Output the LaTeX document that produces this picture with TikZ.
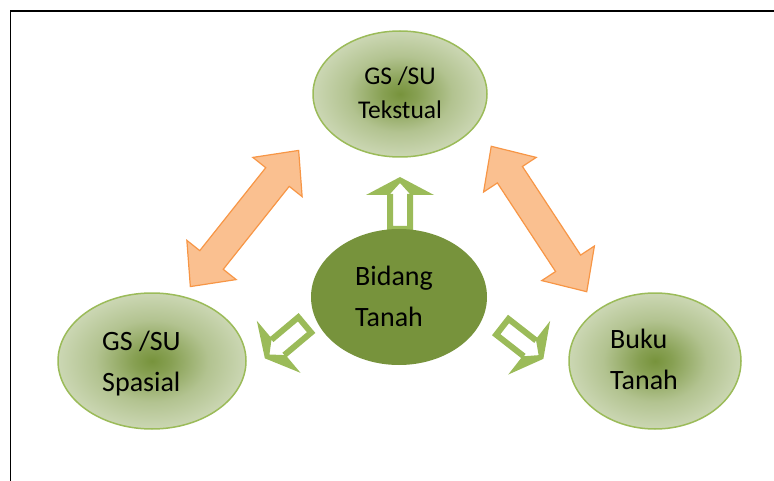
\documentclass[tikz,border=0pt]{standalone}
\usepackage{fontspec}
\setmainfont{Carlito}
\usetikzlibrary{shapes.geometric}

\definecolor{leafline}{HTML}{9BBB59}
\definecolor{leafdark}{HTML}{77933C}
\definecolor{leafpale}{HTML}{E3EAD5}
\definecolor{peachfill}{HTML}{FAC090}
\definecolor{peachline}{HTML}{F79646}

\pgfdeclareradialshading{leafglow}{\pgfpoint{0bp}{0bp}}{%
  color(0bp)=(leafdark);
  color(5bp)=(leafdark!85!leafpale);
  color(15bp)=(leafdark!45!leafpale);
  color(28bp)=(leafdark!15!leafpale);
  color(42bp)=(leafpale);
  color(50bp)=(leafpale)}

\tikzset{
  bubble/.style={ellipse, draw=leafline, line width=1.5pt, shading=leafglow, inner sep=0pt},
  core/.style={ellipse, fill=leafdark, inner sep=0pt},
  bigtext/.style={font=\fontsize{28}{41}\selectfont, align=left, inner sep=0pt},
  smalltext/.style={font=\fontsize{25.5}{34}\selectfont, align=center, inner sep=0pt},
  pics/hollow arrow/.style={code={
    \fill[leafline, even odd rule]
      (0,-13) -- (37,-13) -- (37,-34) -- (55,0) -- (37,34) -- (37,13) -- (0,13) -- cycle
      (6,-7) -- (38,-7) -- (38,-10) -- (49,0) -- (38,10) -- (38,7) -- (6,7) -- cycle;
  }},
  pics/twin arrow/.style={code={
    \filldraw[fill=peachfill, draw=peachline, line width=1.2pt]
      (-87,0) -- (-53,31.5) -- (-53,15) -- (53,15) -- (53,31.5) -- (87,0)
      -- (53,-31.5) -- (53,-15) -- (-53,-15) -- (-53,-31.5) -- cycle;
  }}
}

\begin{document}
\begin{tikzpicture}[x=1pt, y=1pt]
  \useasboundingbox (0,0) rectangle (774,480);

  % Frame round the figure
  \draw[line width=1.5pt] (10.5,-5) -- (10.5,469) -- (780,469);

  % Orange double arrows between the outer ellipses
  \pic[rotate=51.5] at (244.5,261.5) {twin arrow};
  \pic[rotate=123.3] at (539,261) {twin arrow};

  % Green arrows out of the centre
  \pic[rotate=90] at (400,248) {hollow arrow};
  \pic[rotate=220] at (307,157) {hollow arrow};
  \pic[rotate=-38] at (500,155) {hollow arrow};

  % Ellipses
  \node[bubble, minimum width=174pt, minimum height=126pt] (tekstual) at (400,386) {};
  \node[bubble, minimum width=188pt, minimum height=136pt] (spasial) at (152,119) {};
  \node[bubble, minimum width=172pt, minimum height=136pt] (buku) at (655,119) {};
  \node[core, minimum width=176pt, minimum height=136pt] (bidang) at (399,183) {};

  % Labels
  \node[smalltext] (tekstual-txt) at ([yshift=1pt]tekstual.center) {GS /SU\\Tekstual};
  \node[bigtext, anchor=west] (spasial-txt) at (102,116.5) {GS /SU\\Spasial};
  \node[bigtext, anchor=west] (buku-txt) at (610,121) {Buku\\Tanah};
  \node[bigtext, anchor=west] (bidang-txt) at (355,184) {Bidang\\Tanah};
\end{tikzpicture}
\end{document}
